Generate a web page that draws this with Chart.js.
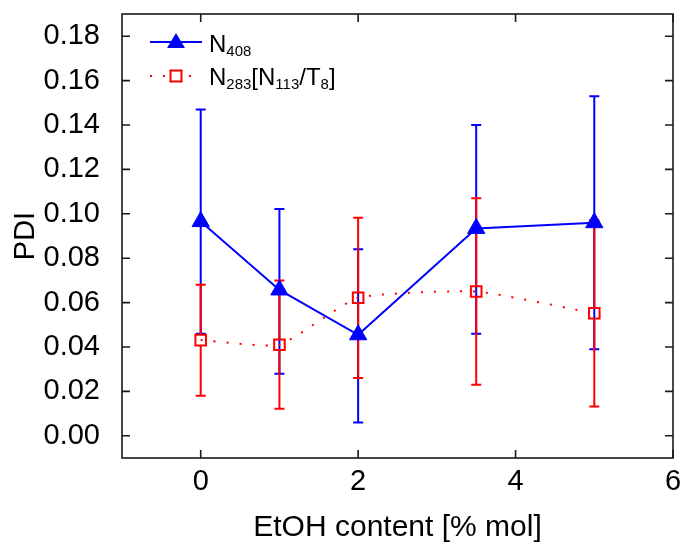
<!DOCTYPE html>
<html>
<head>
<meta charset="utf-8">
<script src="https://cdn.jsdelivr.net/npm/chart.js@4.4.0/dist/chart.umd.min.js"></script>
<style>
  html, body { margin: 0; padding: 0; background: #fff; }
</style>
</head>
<body>
<canvas id="pdi" width="684" height="544"></canvas>
<script>
// EtOH content [% mol]
const etoh = [0, 1, 2, 3.5, 5];

// N408
const pdiN408 = [0.0965, 0.0657, 0.0455, 0.0934, 0.096];
const n408Upper = [0.147, 0.1022, 0.084, 0.140, 0.153];
const n408Lower = [0.046, 0.028, 0.006, 0.046, 0.039];

// N283[N113/T8]
const pdiN283 = [0.0431, 0.041, 0.0622, 0.065, 0.0552];
const n283Upper = [0.068, 0.0699, 0.0982, 0.107, 0.0972];
const n283Lower = [0.018, 0.0122, 0.026, 0.023, 0.0132];

const xTicks = [0, 2, 4, 6];
const yTicks = [0, 0.02, 0.04, 0.06, 0.08, 0.10, 0.12, 0.14, 0.16, 0.18];

// legend labels, pieces marked sub are subscripts
const legendN408 = [{ t: 'N' }, { t: '408', sub: true }];
const legendN283 = [{ t: 'N' }, { t: '283', sub: true }, { t: '[N' }, { t: '113', sub: true },
                    { t: '/T' }, { t: '8', sub: true }, { t: ']' }];

const FONT = '"Liberation Sans", Arial, sans-serif';
const BLUE = '#0000ff';
const RED = '#ff0000';

function toPoints(xs, ys) {
    return xs.map((x, i) => ({ x: x, y: ys[i] }));
}

// error bars drawn through the scales, under the markers
const errorBars = {
    id: 'errorBars',
    beforeDatasetsDraw(chart) {
        const ctx = chart.ctx;
        const xs = chart.scales.x, ys = chart.scales.y;
        const sets = [
            { lo: n408Lower, hi: n408Upper, mid: pdiN408, color: BLUE, gap: 0 },
            { lo: n283Lower, hi: n283Upper, mid: pdiN283, color: RED, gap: 6 }
        ];
        ctx.save();
        ctx.lineWidth = 2;
        sets.forEach(s => {
            ctx.strokeStyle = s.color;
            etoh.forEach((v, i) => {
                const px = xs.getPixelForValue(v);
                const pm = ys.getPixelForValue(s.mid[i]);
                const pl = ys.getPixelForValue(s.lo[i]);
                const ph = ys.getPixelForValue(s.hi[i]);
                ctx.beginPath();
                ctx.moveTo(px, ph); ctx.lineTo(px, pm - s.gap);
                ctx.moveTo(px, pm + s.gap); ctx.lineTo(px, pl);
                ctx.moveTo(px - 5, ph); ctx.lineTo(px + 5, ph);
                ctx.moveTo(px - 5, pl); ctx.lineTo(px + 5, pl);
                ctx.stroke();
            });
        });
        ctx.restore();
    }
};

// closed frame with inward ticks on all four sides
const frame = {
    id: 'frame',
    afterDraw(chart) {
        const ctx = chart.ctx;
        const a = chart.chartArea;
        const xs = chart.scales.x, ys = chart.scales.y;
        ctx.save();
        ctx.strokeStyle = '#1a1a1a';
        ctx.lineWidth = 1.6;
        ctx.strokeRect(a.left, a.top, a.right - a.left, a.bottom - a.top);
        ctx.beginPath();
        yTicks.forEach(v => {
            const p = ys.getPixelForValue(v);
            ctx.moveTo(a.left, p); ctx.lineTo(a.left + 8, p);
            ctx.moveTo(a.right, p); ctx.lineTo(a.right - 8, p);
        });
        xTicks.forEach(v => {
            const p = xs.getPixelForValue(v);
            ctx.moveTo(p, a.bottom); ctx.lineTo(p, a.bottom - 8);
            ctx.moveTo(p, a.top); ctx.lineTo(p, a.top + 8);
        });
        ctx.stroke();
        ctx.restore();
    }
};

function drawRich(ctx, parts, x, y) {
    parts.forEach(p => {
        ctx.font = (p.sub ? '15px ' : '24px ') + FONT;
        ctx.fillText(p.t, x, p.sub ? y + 4 : y);
        x += ctx.measureText(p.t).width;
    });
}

const legendBox = {
    id: 'legendBox',
    afterDraw(chart) {
        const ctx = chart.ctx;
        ctx.save();
        // N408: solid line and triangle
        ctx.strokeStyle = BLUE;
        ctx.fillStyle = BLUE;
        ctx.lineWidth = 2;
        ctx.beginPath();
        ctx.moveTo(150, 42); ctx.lineTo(202, 42);
        ctx.stroke();
        const r = 10, cx = 176, cy = 43;
        ctx.beginPath();
        ctx.moveTo(cx, cy - r);
        ctx.lineTo(cx - 0.9 * r, cy + r / 2);
        ctx.lineTo(cx + 0.9 * r, cy + r / 2);
        ctx.closePath();
        ctx.fill();
        // N283: dotted line and open square
        ctx.strokeStyle = RED;
        ctx.setLineDash([2, 11]);
        ctx.beginPath();
        ctx.moveTo(150, 76); ctx.lineTo(202, 76);
        ctx.stroke();
        ctx.setLineDash([]);
        ctx.clearRect(169, 69, 14, 14);
        ctx.strokeRect(170.5, 70.5, 11, 11);

        ctx.fillStyle = '#000';
        ctx.textBaseline = 'alphabetic';
        drawRich(ctx, legendN408, 209, 52);
        drawRich(ctx, legendN283, 209, 84.5);
        ctx.restore();
    }
};

new Chart(document.getElementById('pdi'), {
    type: 'line',
    data: {
        datasets: [{
            label: 'N408',
            data: toPoints(etoh, pdiN408),
            borderColor: BLUE,
            backgroundColor: BLUE,
            borderWidth: 2,
            pointStyle: 'triangle',
            pointRadius: 10,
            pointBorderWidth: 1,
            tension: 0
        }, {
            label: 'N283[N113/T8]',
            data: toPoints(etoh, pdiN283),
            borderColor: RED,
            backgroundColor: 'rgba(0,0,0,0)',
            borderWidth: 2,
            borderDash: [2, 11],
            pointStyle: 'rect',
            pointRadius: 7.5,
            pointBorderWidth: 2,
            tension: 0.15
        }]
    },
    options: {
        responsive: false,
        animation: false,
        layout: { padding: { top: 14, right: 10, left: 0, bottom: 0 } },
        plugins: {
            legend: { display: false },
            tooltip: { enabled: false }
        },
        scales: {
            x: {
                type: 'linear',
                min: -1,
                max: 6,
                grid: { display: false },
                border: { display: false },
                afterBuildTicks: s => { s.ticks = xTicks.map(v => ({ value: v })); },
                afterFit: s => { s.height = 86; s.paddingLeft = 0; s.paddingRight = 0; },
                ticks: {
                    color: '#000',
                    font: { family: FONT, size: 29, lineHeight: 1.1 },
                    padding: 0,
                    maxRotation: 0,
                    callback: v => String(v)
                },
                title: {
                    display: true,
                    text: 'EtOH content [% mol]',
                    color: '#000',
                    font: { family: FONT, size: 30, lineHeight: 1 },
                    padding: { top: 0, bottom: 1 }
                }
            },
            y: {
                min: -0.01,
                max: 0.19,
                grid: { display: false },
                border: { display: false },
                afterBuildTicks: s => { s.ticks = yTicks.map(v => ({ value: v })); },
                afterFit: s => { s.width = 122; s.paddingTop = 0; s.paddingBottom = 0; },
                ticks: {
                    color: '#000',
                    font: { family: FONT, size: 29, lineHeight: 1.2 },
                    padding: 14,
                    callback: v => v.toFixed(2)
                },
                title: {
                    display: true,
                    text: 'PDI',
                    color: '#000',
                    font: { family: FONT, size: 29, lineHeight: 1.2 },
                    padding: { top: 9, bottom: 0 }
                }
            }
        }
    },
    plugins: [errorBars, frame, legendBox]
});
</script>
</body>
</html>
